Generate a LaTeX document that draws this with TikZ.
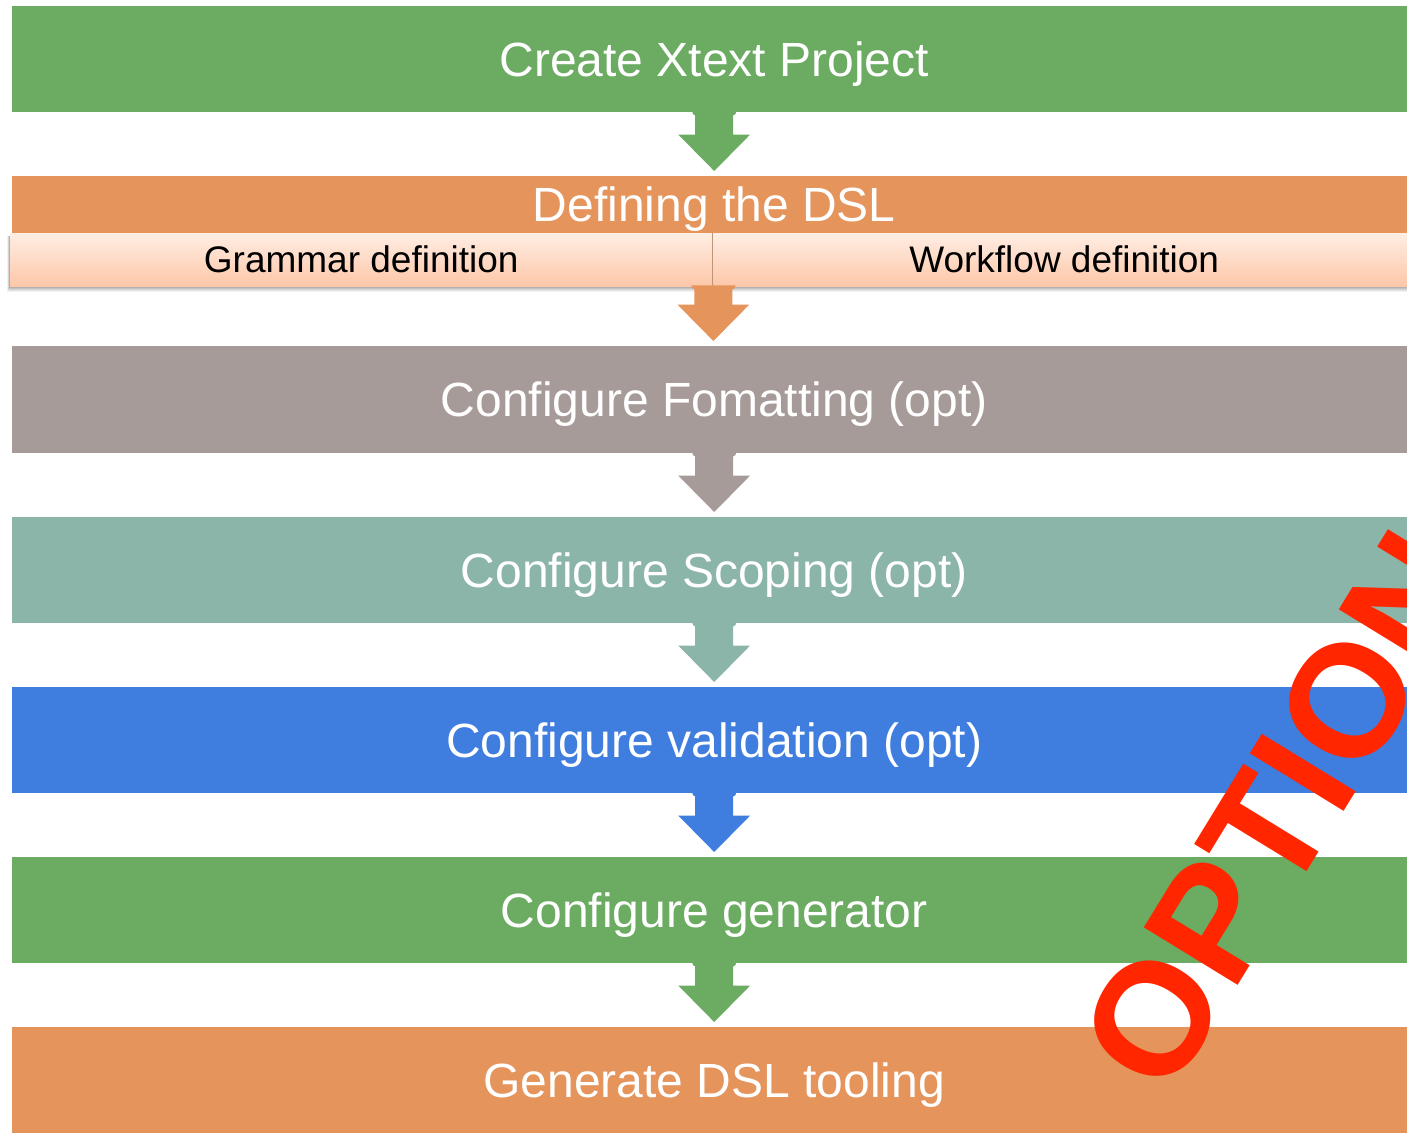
\documentclass[tikz,border=0pt]{standalone}
\usepackage{fontspec}
\setmainfont{Liberation Sans}
\usetikzlibrary{calc,shadows}

\definecolor{barGreen}{RGB}{108,172,98}
\definecolor{barOrange}{RGB}{229,148,91}
\definecolor{barGray}{RGB}{166,155,153}
\definecolor{barTeal}{RGB}{140,181,170}
\definecolor{barBlue}{RGB}{63,125,222}
\definecolor{subTop}{RGB}{255,237,227}
\definecolor{subBottom}{RGB}{253,199,168}
\definecolor{optRed}{RGB}{255,38,0}

% block arrow from a point at the bottom of one bar to the top of the next
\newcommand{\arrowpath}[3]{%
  \fill[#3] let \p1=(#1), \p2=(#2) in
    (\x1-22pt,\y1+1pt) to[out=-90,in=180] (\x1-19pt,\y1-3pt)
    -- (\x1-19pt,\y2+41.5pt) -- (\x1-36pt,\y2+41.5pt) -- (\x1,\y2+5pt)
    -- (\x1+36pt,\y2+41.5pt) -- (\x1+19pt,\y2+41.5pt) -- (\x1+19pt,\y1-3pt)
    to[out=0,in=-90] (\x1+22pt,\y1+1pt) -- cycle;}
\newcommand{\blockarrow}[3]{\arrowpath{#1.south}{#2.north}{#3}}

\tikzset{
  bar/.style={anchor=north west, minimum width=1404pt, inner sep=0pt,
    text=white, font=\fontsize{48}{56}\selectfont,
    text height=34.4pt, text depth=0pt},
  subband/.style={anchor=north west, minimum height=53pt, inner sep=0pt,
    top color=subTop, bottom color=subBottom, draw=none,
    text=black, font=\fontsize{37}{44}\selectfont,
    text height=26.5pt, text depth=0pt},
  bandshadow/.style={fill=black, opacity=#1},
  divider/.style={line width=1.5pt, draw=black!30!barOrange!70},
  stamp/.style={text=optRed, font=\fontsize{160}{160}\selectfont\bfseries,
    inner sep=0pt, anchor=base west, rotate=58.5}
}

\begin{document}
\begin{tikzpicture}[x=1pt, y=-1pt]
  \useasboundingbox (0,0) rectangle (1407,1132);
  \clip (0,0) rectangle (1407,1132);

  % soft shadow under the sub-band
  \foreach \d/\o in {6/.05, 5/.06, 4/.07, 3/.08, 2/.09, 1/.1}
    \fill[bandshadow=\o] (10-\d*0.5,236) rectangle (1420,286+\d);

  % process bars
  \node[bar, fill=barGreen,  minimum height=106pt] (create) at (12,6)    {Create Xtext Project};
  \node[bar, fill=barOrange, minimum height=57pt]  (define) at (12,176)  {Defining the DSL};
  \node[subband, minimum width=702pt] (grammar)  at (10,233)  {Grammar definition};
  \node[subband, minimum width=704pt] (workflow) at (712,233) {Workflow definition};
  \draw[divider] (grammar.north east) -- (grammar.south east);
  \coordinate (definebottom) at ($(grammar.south east)+(1,0)$);
  \node[bar, fill=barGray,   minimum height=107pt] (format) at (12,346)  {Configure Fomatting (opt)};
  \node[bar, fill=barTeal,   minimum height=106pt] (scoping) at (12,517) {Configure Scoping (opt)};
  \node[bar, fill=barBlue,   minimum height=106pt] (valid) at (12,687)   {Configure validation (opt)};
  \node[bar, fill=barGreen,  minimum height=106pt] (gen) at (12,857)     {Configure generator};
  \node[bar, fill=barOrange, minimum height=106pt] (tool) at (12,1027)   {Generate DSL tooling};

  % arrows between the steps
  \blockarrow{create}{define}{barGreen}
  \arrowpath{definebottom}{format.north}{barOrange}
  \blockarrow{format}{scoping}{barGray}
  \blockarrow{scoping}{valid}{barTeal}
  \blockarrow{valid}{gen}{barBlue}
  \blockarrow{gen}{tool}{barGreen}

  % stamp over the optional steps
  \node[stamp] (optional) at (1167,1101) {OPTIONAL};
\end{tikzpicture}
\end{document}
